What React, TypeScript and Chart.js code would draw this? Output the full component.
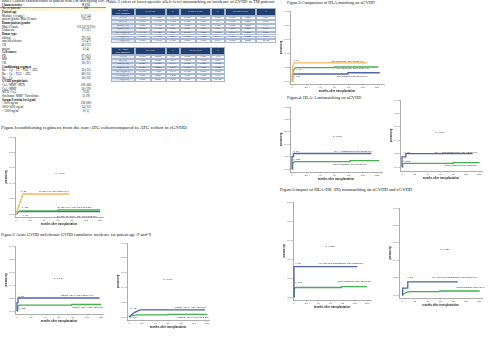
import React, { useEffect, useRef } from "react";
import { Chart, registerables } from "chart.js";
Chart.register(...registerables);

type Pt = [number, number];
type Note = { x: number; y: number; text: string; align?: "left" | "center" | "right"; bold?: boolean };
type Geo = { l: number; y1: number; y0: number; b: number; x0: number; xLast: number; r: number };

// ---------- axis ticks ----------
const xTickValues = [0, 20, 40, 60, 80, 100, 120];
const yTickValues = [0, 0.2, 0.4, 0.6, 0.8, 1.0];

const ORANGE = "#f2b862";
const GREEN = "#46b050";
const BLUE = "#5064a8";

// ---------- Figure 1 ----------
const fig1Orange: Pt[] = [[0, 0], [10, 0.26], [76, 0.26]];
const fig1Green: Pt[] = [[0, 0], [3, 0.03], [6, 0.04], [60, 0.04], [60, 0.052], [120, 0.052]];
const fig1Blue: Pt[] = [[0, 0], [4, 0.03], [120, 0.03]];
const fig1Notes: Note[] = [
  { x: 63, y: 0.53, text: "P=0.000" },
  { x: 11, y: 0.3, text: "n=30" },
  { x: 54, y: 0.3, text: "Cy+Bu+Flu: cGVHD(26.7%)" },
  { x: 13, y: 0.08, text: "n=107" },
  { x: 84, y: 0.09, text: "Cy+Bu+Flu+ATG: cGVHD(5.2%)" },
  { x: 13, y: -0.012, text: "n=15" },
  { x: 87, y: -0.025, text: "Cy+Bu+TT+FLU+ATG: cGVHD(3.0%)" },
];

// ---------- Figure 2 ----------
const fig2aBlue: Pt[] = [[0, 0], [0, 0.13], [1.5, 0.13], [1.5, 0.2], [118, 0.2]];
const fig2aGreen: Pt[] = [[0, 0], [1, 0.07], [3, 0.09], [78, 0.09], [78, 0.1], [120, 0.1]];
const fig2aNotes: Note[] = [
  { x: 59, y: 0.51, text: "P=0.048" },
  { x: 2, y: 0.22, text: "n=18", align: "left" },
  { x: 86, y: 0.235, text: "patient Age>9: aGVHD(19.6%)" },
  { x: 2, y: 0.045, text: "n=105", align: "left" },
  { x: 101, y: 0.06, text: "patient Age<9: aGVHD(9.5%)" },
];
const fig2bBlue: Pt[] = [[0, 0], [4, 0.03], [8, 0.06], [13, 0.08], [17, 0.095], [117, 0.095]];
const fig2bGreen: Pt[] = [[0, 0], [5, 0.02], [12, 0.03], [60, 0.03], [60, 0.035], [120, 0.035]];
const fig2bNotes: Note[] = [
  { x: 60, y: 0.51, text: "P=0.046" },
  { x: 7, y: 0.12, text: "n=18" },
  { x: 95, y: 0.13, text: "patient Age>9: cGVHD(9.5%)" },
  { x: 7, y: -0.01, text: "n=105" },
  { x: 99, y: 0.0, text: "patient Age<9: cGVHD(3.5%)" },
];

// ---------- Figure 3 ----------
const fig3Orange: Pt[] = [[0, 0], [1, 0.2], [3, 0.26], [106, 0.26]];
const fig3Green: Pt[] = [[0, 0], [1, 0.1], [3, 0.17], [5, 0.19], [60, 0.19], [60, 0.2], [122, 0.2]];
const fig3Blue: Pt[] = [[0, 0], [0.5, 0.1], [79, 0.1], [79, 0.118], [124, 0.118]];
const fig3Notes: Note[] = [
  { x: 2, y: 0.3, text: "n=16", align: "left" },
  { x: 79, y: 0.285, text: "two locus one: aGVHD(26.4%)" },
  { x: 6, y: 0.165, text: "n=67", align: "left" },
  { x: 86, y: 0.185, text: "one locus one: aGVHD(19.4%)" },
  { x: 2, y: 0.07, text: "n=108", align: "left" },
  { x: 85, y: 0.07, text: "full matched: aGVHD(11.1%)" },
];

// ---------- Figure 4 ----------
const fig4aBlue: Pt[] = [[0, 0], [0, 0.2], [2, 0.2], [2, 0.25], [112, 0.25]];
const fig4aGreen: Pt[] = [[0, 0], [1, 0.08], [3, 0.118], [82, 0.118], [82, 0.134], [123, 0.134]];
const fig4aNotes: Note[] = [
  { x: 64, y: 0.52, text: "P=0.010" },
  { x: 2, y: 0.29, text: "n=16", align: "left" },
  { x: 86, y: 0.29, text: "HLA-A mismatched: aGVHD(25.0%)" },
  { x: 2, y: 0.15, text: "n=105", align: "left" },
  { x: 82, y: 0.07, text: "allele matching: aGVHD(11.8%)" },
];
const fig4bBlue: Pt[] = [[0, 0], [0, 0.15], [6, 0.15], [6, 0.2], [110, 0.2]];
const fig4bGreen: Pt[] = [[0, 0], [1, 0.04], [3, 0.055], [80, 0.055], [80, 0.065], [121, 0.065]];
const fig4bNotes: Note[] = [
  { x: 59, y: 0.52, text: "P=0.006" },
  { x: 4, y: 0.225, text: "n=18", align: "left" },
  { x: 84, y: 0.225, text: "HLA-A mismatched 2/10: cGVHD(20.0%)" },
  { x: 2, y: 0.09, text: "n=105", align: "left" },
  { x: 92, y: 0.03, text: "allele matching: cGVHD(5.7%)" },
];

// ---------- Figure 5 ----------
const fig5aBlue: Pt[] = [[0, 0], [0, 0.32], [104, 0.32]];
const fig5aGreen: Pt[] = [[0, 0], [0, 0.04], [1, 0.09], [3, 0.1], [78, 0.1], [78, 0.11], [120, 0.11]];
const fig5aNotes: Note[] = [
  { x: 59, y: 0.53, text: "P=0.056" },
  { x: 2, y: 0.35, text: "n=12", align: "left" },
  { x: 77, y: 0.35, text: "HLA-DR+DQ mismatched: aGVHD(33.3%)" },
  { x: 2, y: 0.15, text: "n=106", align: "left" },
  { x: 100, y: 0.16, text: "allele matching: aGVHD(11.3%)" },
];
const fig5bBlue: Pt[] = [[0, 0], [1, 0.08], [9, 0.08], [9, 0.15], [87, 0.15]];
const fig5bGreen: Pt[] = [[0, 0], [3, 0.015], [7, 0.03], [12, 0.038], [59, 0.038], [59, 0.046], [121, 0.046]];
const fig5bNotes: Note[] = [
  { x: 67, y: 0.52, text: "P=0.025" },
  { x: 8, y: 0.2, text: "n=12", align: "left" },
  { x: 82, y: 0.2, text: "HLA-DR+DQ mismatched: cGVHD(16.7%)" },
  { x: 110, y: 0.085, text: "allele matching: cGVHD(4.7%)" },
];

// ---------- Table 1 ----------
const table1Labels = [
  "Characteristics", "No. of patients", "Patient age", "Median, y (range)", "patient gender Male/Female",
  "Donor/patient gender", "Male/Female", "Unknown", "Donor type", "sibling", "unrelated donor", "CB", "parent",
  "Cell source", "PB", "BM", "CB", "Conditioning regimen", "Bu + Cy + TT + FLU + ATG", "Bu + Cy + FLU + ATG",
  "Bu + Cy", "GVHD prophylaxis", "CsA+MMF+MTX", "CsA+MMF", "MTX+CsA", "Sirolimus+MMF+Tacrolimus",
  "Serum Ferritin level,g/ml", "<3000 ng/ml", "3000-5000 ng/ml", "> 5000 ng/ml",
];
const table1Values = [
  "N (%)", "160", "", "6 (1-24)", "105/55", "", "112/31(70.0%)", "17 (11)", "", "39 (24)", "75 (47)",
  "40 (25)", "6 (4)", "", "97 (61)", "45 (28)", "18 (11)", "", "56 (35)", "88 (55)", "16 (10)", "",
  "106 (66)", "30 (19)", "9 (6)", "15 (9)", "", "128 (80)", "24 (15)", "8 (5)",
];
const table1Bold = [0, 2, 5, 8, 13, 17, 21, 26];

// ---------- Table 2 ----------
const table2Loci = ["A(1/10)", "B(1/10)", "DRB1(1/10)", "DQB1(1/10)", "DR+DQ(2/10)", "C+DQ(2/10)", "A+DQ(2/10)"];
const table2aHeader = ["HLA locus\nallele mismatch", "a GVHD", "P", "II-IVa GVHD", "P", "III-IVa GVHD", "P"];
const table2aRows = [
  ["35.00%", "13.64%", "0.013", "35.00%", "6.56%", "0.004", "8.75%", "4.46%", "0.491"],
  ["30.00%", "13.79%", "0.124", "0.00%", "7.59%", "0.71", "0.00%", "4.48%", "0.573"],
  ["9.52%", "13.79%", "0.61", "9.52%", "7.59%", "0.755", "9.52%", "4.48%", "0.371"],
  ["12.50%", "13.79%", "0.925", "0.00%", "7.59%", "0.35", "0.00%", "4.48%", "0.575"],
  ["33.33%", "13.64%", "0.088", "25.00%", "7.04%", "0.0069", "8.33%", "4.46%", "0.569"],
  ["0.00%", "13.99%", "0.227", "0.00%", "7.05%", "0.519", "0.00%", "4.46%", "0.783"],
  ["0.00%", "13.99%", "0.728", "0.00%", "7.05%", "0.819", "0.00%", "4.48%", "00.360"],
];
const table2bHeader = ["HLA locus\nallele mismatch", "cGVHD", "P", "Ex cGVHD", "P"];
const table2bRows = [
  ["4.76%", "4.69%", "0.98", "4.76%", "1.56%", "0.39"],
  ["0.00%", "4.82%", "0.633", "0.00%", "1.61%", "0.553"],
  ["9.52%", "4.35%", "0.331", "0.00%", "1.64%", "0.534"],
  ["0.00%", "4.48%", "0.509", "0.00%", "1.65%", "0.554"],
  ["16.70%", "3.90%", "0.039", "16.70%", "0.80%", "0.009"],
  ["0.00%", "4.46%", "0.484", "0.00%", "1.62%", "0.715"],
  ["0.00%", "4.46%", "0.808", "0.00%", "1.62%", "00.328"],
];

const SERIF = '"Liberation Serif", "DejaVu Serif", serif';
const SANS = '"Liberation Sans", Arial, sans-serif';

function Txt(p: { x: number; y: number; size: number; text: string; bold?: boolean; center?: boolean; color?: string }) {
  return (
    <div
      style={{
        position: "absolute",
        left: p.x,
        top: p.y - p.size * 0.55,
        fontSize: p.size + "px",
        lineHeight: 1,
        fontFamily: SERIF,
        fontWeight: p.bold ? "bold" : "normal",
        whiteSpace: "nowrap",
        color: p.color || "#111",
        transform: p.center ? "translateX(-50%)" : undefined,
      }}
    >
      {p.text}
    </div>
  );
}

function KMChart(props: { geo: Geo; series: { pts: Pt[]; color: string }[]; notes: Note[] }) {
  const ref = useRef<HTMLCanvasElement>(null);
  const YW = 10, XH = 9, PT = 3, PR = 3;
  const { l, y1, y0, b, x0, xLast, r } = props.geo;
  const k = (xLast - x0) / 120;
  const xmin = -(x0 - l) / k;
  const xmax = 120 + (r - xLast) / k;
  const ymin = -(b - y0) / (y0 - y1);
  const W = r - l + YW + PR;
  const H = b - y1 + PT + XH;
  useEffect(() => {
    const notes = props.notes;
    const notesPlugin = {
      id: "notes",
      afterDatasetsDraw(chart: any) {
        const ctx = chart.ctx;
        const xs = chart.scales.x, ys = chart.scales.y;
        ctx.save();
        notes.forEach((n) => {
          ctx.font = `${n.bold ? "bold " : ""}2.4px ${SANS}`;
          ctx.fillStyle = "#222";
          ctx.textAlign = n.align || "center";
          ctx.textBaseline = "middle";
          ctx.fillText(n.text, xs.getPixelForValue(n.x), ys.getPixelForValue(n.y));
        });
        ctx.restore();
      },
    };
    const tickFont = { size: 2.5, family: SANS };
    const chart = new Chart(ref.current as HTMLCanvasElement, {
      type: "line",
      data: {
        datasets: props.series.map((s) => ({
          data: s.pts.map(([x, y]) => ({ x, y })),
          borderColor: s.color,
          borderWidth: 1.3,
          pointRadius: 0,
          tension: 0,
          fill: false,
        })),
      },
      options: {
        animation: false,
        responsive: false,
        maintainAspectRatio: false,
        layout: { padding: { top: PT, right: PR, left: 0, bottom: 0 } },
        plugins: { legend: { display: false }, tooltip: { enabled: false } },
        scales: {
          x: {
            type: "linear",
            min: xmin,
            max: xmax,
            afterBuildTicks: (a: any) => {
              a.ticks = xTickValues.map((v) => ({ value: v }));
            },
            afterFit: (s: any) => {
              s.height = XH;
            },
            grid: { display: true, drawOnChartArea: false, drawTicks: true, tickLength: 1.5, color: "#999", lineWidth: 0.7 },
            border: { display: true, color: "#999", width: 0.8 },
            ticks: { font: tickFont, color: "#444", padding: 0.8, maxRotation: 0, autoSkip: false, callback: (v: any) => String(v) },
            title: { display: true, text: "months after transplantation", font: { size: 2.7, weight: "bold", family: SANS }, color: "#222", padding: 0 },
          },
          y: {
            type: "linear",
            min: ymin,
            max: 1,
            afterBuildTicks: (a: any) => {
              a.ticks = yTickValues.map((v) => ({ value: v }));
            },
            afterFit: (s: any) => {
              s.width = YW;
            },
            grid: { display: true, drawOnChartArea: false, drawTicks: true, tickLength: 1.5, color: "#999", lineWidth: 0.7 },
            border: { display: true, color: "#999", width: 0.8 },
            ticks: { font: tickFont, color: "#444", padding: 0.8, autoSkip: false, callback: (v: any) => Number(v).toFixed(1) },
            title: { display: true, text: "probability", font: { size: 2.7, weight: "bold", family: SANS }, color: "#222", padding: 0 },
          },
        },
      } as any,
      plugins: [notesPlugin],
    });
    return () => chart.destroy();
  }, []);
  return (
    <canvas
      ref={ref}
      width={W}
      height={H}
      style={{ position: "absolute", left: l - YW, top: y1 - PT, width: W, height: H }}
    />
  );
}

function HlaTable(p: { left: number; top: number; widths: number[]; header: string[]; rows: string[][]; headH: number; rowH: number }) {
  const cells: React.ReactNode[] = [];
  const xs: number[] = [p.left];
  p.widths.forEach((w) => xs.push(xs[xs.length - 1] + w));
  let col = 0;
  p.header.forEach((h, i) => {
    const span = i === 0 ? 1 : h === "P" ? 1 : 2;
    const x = xs[col], w = xs[col + span] - xs[col];
    cells.push(
      <div
        key={"h" + i}
        style={{
          position: "absolute", left: x, top: p.top, width: w, height: p.headH, background: "#22406f",
          boxSizing: "border-box", border: "0.5px solid #9fb0cc", color: "#fff", fontFamily: SERIF,
          fontSize: i === 0 ? "2.2px" : "2.6px", lineHeight: 1.15, display: "flex", alignItems: "center",
          justifyContent: "center", textAlign: "center", whiteSpace: "pre",
        }}
      >
        {h}
      </div>
    );
    col += span;
  });
  const allRows = p.rows.map((r, i) => [table2Loci[i], ...r]);
  allRows.forEach((r, ri) => {
    r.forEach((c, ci) => {
      cells.push(
        <div
          key={"c" + ri + "_" + ci}
          style={{
            position: "absolute", left: xs[ci], top: p.top + p.headH + ri * p.rowH, width: p.widths[ci], height: p.rowH,
            background: ci === 0 ? "#e3eaf5" : "#f7f9fc", boxSizing: "border-box", border: "0.5px solid #a9b7cf",
            fontFamily: SERIF, fontSize: "2.4px", lineHeight: 1, color: "#222", display: "flex",
            alignItems: "center", justifyContent: "center", whiteSpace: "nowrap",
          }}
        >
          {c}
        </div>
      );
    });
  });
  return <>{cells}</>;
}

export default function App() {
  return (
    <div style={{ position: "fixed", left: 0, top: 0, width: 500, height: 341, background: "#fff", overflow: "hidden" }}>
      {/* Table 1 */}
      <Txt x={1} y={2.4} size={3.9} text="Table1.Clinical characteristics of patient with TM undergoing HSCT" />
      <div style={{ position: "absolute", left: 0, top: 7.5, width: 106, height: 3.6, background: "#fcf5dc" }} />
      <div style={{ position: "absolute", left: 0, top: 7, width: 106, height: 0.5, background: "#999" }} />
      {table1Labels.map((t, i) => (
        <Txt key={"l" + i} x={2} y={5.3 + i * 3.66} size={3.1} text={t} bold={table1Bold.includes(i)} />
      ))}
      {table1Values.map((t, i) => (
        <Txt key={"v" + i} x={86} y={5.3 + i * 3.66} size={3.1} text={t} center bold={i === 0} />
      ))}

      {/* Table 2 */}
      <Txt x={107} y={2.6} size={4.4} text="Table 2 effect of locus-specific allele-level mismatching on incidence of GVHD in TM patients" />
      <HlaTable left={111} top={8} widths={[23.5, 16, 15.5, 13.5, 16, 15.5, 13.5, 16, 15.5, 20]} header={table2aHeader} rows={table2aRows} headH={8} rowH={3.9} />
      <HlaTable left={111} top={47} widths={[23.5, 16, 15.5, 13.5, 16, 15.5, 14]} header={table2bHeader} rows={table2bRows} headH={8} rowH={3.85} />

      {/* Figure titles */}
      <Txt x={287} y={3} size={4.3} text="Figure3:Comparison of HLA matching on aGVHD" />
      <Txt x={287} y={98.5} size={4.4} text="Figure4: HLA-A mismatching on aGVHD" />
      <Txt x={280} y={191} size={4.6} text="Figure5:impact of HLA-DR+DQ mismatching on aGVHD and cGVHD" />
      <Txt x={1} y={128} size={5} text="Figure1conditioning regimens from the non-ATG cohortcompared to ATG cohort in cGVHD" />
      <Txt x={1} y={235} size={4.2} text="Figure2: Acute GVHD and chronic GVHD cumulative incidence for patient age>9 and<9" />

      <KMChart
        geo={{ l: 15, y1: 137, y0: 214, b: 217, x0: 16, xLast: 100, r: 103 }}
        series={[{ pts: fig1Orange, color: ORANGE }, { pts: fig1Green, color: GREEN }, { pts: fig1Blue, color: BLUE }]}
        notes={fig1Notes}
      />
      <KMChart
        geo={{ l: 15, y1: 246, y0: 311, b: 314, x0: 17, xLast: 101, r: 103 }}
        series={[{ pts: fig2aBlue, color: BLUE }, { pts: fig2aGreen, color: GREEN }]}
        notes={fig2aNotes}
      />
      <KMChart
        geo={{ l: 127, y1: 243, y0: 317, b: 320, x0: 129, xLast: 207, r: 209 }}
        series={[{ pts: fig2bBlue, color: BLUE }, { pts: fig2bGreen, color: GREEN }]}
        notes={fig2bNotes}
      />
      <KMChart
        geo={{ l: 290, y1: 11, y0: 81, b: 84, x0: 292, xLast: 377, r: 384 }}
        series={[{ pts: fig3Orange, color: ORANGE }, { pts: fig3Green, color: GREEN }, { pts: fig3Blue, color: BLUE }]}
        notes={fig3Notes}
      />
      <KMChart
        geo={{ l: 290, y1: 107, y0: 169, b: 172, x0: 292, xLast: 377, r: 382 }}
        series={[{ pts: fig4aBlue, color: BLUE }, { pts: fig4aGreen, color: GREEN }]}
        notes={fig4aNotes}
      />
      <KMChart
        geo={{ l: 400, y1: 100, y0: 167, b: 171, x0: 402, xLast: 479, r: 482 }}
        series={[{ pts: fig4bBlue, color: BLUE }, { pts: fig4bGreen, color: GREEN }]}
        notes={fig4bNotes}
      />
      <KMChart
        geo={{ l: 293, y1: 202, y0: 297, b: 300, x0: 294, xLast: 367, r: 371 }}
        series={[{ pts: fig5aBlue, color: BLUE }, { pts: fig5aGreen, color: GREEN }]}
        notes={fig5aNotes}
      />
      <KMChart
        geo={{ l: 399, y1: 208, y0: 295, b: 298, x0: 402, xLast: 479, r: 482 }}
        series={[{ pts: fig5bBlue, color: BLUE }, { pts: fig5bGreen, color: GREEN }]}
        notes={fig5bNotes}
      />
    </div>
  );
}
